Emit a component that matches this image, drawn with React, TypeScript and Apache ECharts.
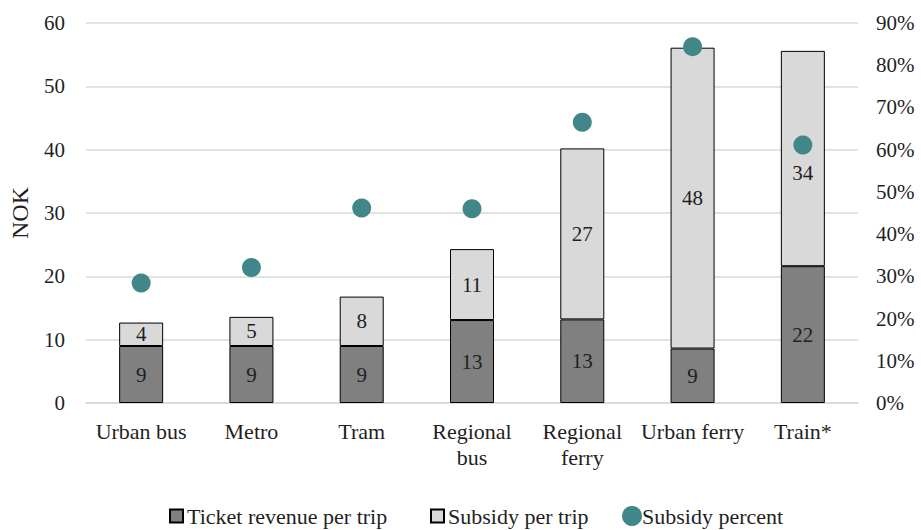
import React, { useEffect, useRef } from "react";
import * as echarts from "echarts";

// Cost per trip by mode of transport (NOK) and share covered by subsidy
const categories = ["Urban bus", "Metro", "Tram", "Regional bus", "Regional ferry", "Urban ferry", "Train*"];
const ticketRevenue = [9.0, 9.0, 9.0, 13.1, 13.2, 8.6, 21.6];
const subsidy = [3.7, 4.6, 7.8, 11.2, 27.0, 47.5, 34.0];
const subsidyPercent = [28.4, 32.1, 46.2, 46.0, 66.5, 84.4, 61.1];
const leftTicks = { min: 0, max: 60, interval: 10 };
const rightTicks = { min: 0, max: 90, interval: 10 };

const FONT = "'Liberation Serif', 'DejaVu Serif', serif";
const TEXT = "#1f1f1f";
const DARK = "#808080";
const LIGHT = "#d9d9d9";
const TEAL = "#418789";

export default function App() {
  const ref = useRef<HTMLDivElement>(null);

  useEffect(() => {
    if (!ref.current) return;
    const chart = echarts.init(ref.current, undefined, { renderer: "svg" });

    const barLabel = {
      show: true,
      position: "inside" as const,
      color: TEXT,
      fontFamily: FONT,
      fontSize: 21,
      formatter: (p: any) => String(Math.round(p.value)),
    };

    // the train's subsidy label sits a little lower so the dot stays clear of it
    const subsidyData = subsidy.map((v, i) =>
      i === categories.length - 1 ? { value: v, label: { offset: [0, 14] } } : v
    );

    const legendText = { color: TEXT, fontFamily: FONT, fontSize: 22 };

    chart.setOption({
      animation: false,
      backgroundColor: "#fff",
      textStyle: { fontFamily: FONT },
      grid: { left: 84, right: 63, top: 23, bottom: 127 },
      legend: [
        {
          data: [{ name: "Ticket revenue per trip", icon: "rect" }],
          left: 169,
          top: 505,
          itemWidth: 13,
          itemHeight: 13,
          itemGap: 4,
          padding: 0,
          textStyle: { ...legendText, padding: [0, 0, 0, -1] },
        },
        {
          data: [{ name: "Subsidy per trip", icon: "rect" }],
          left: 430,
          top: 505,
          itemWidth: 13,
          itemHeight: 13,
          padding: 0,
          textStyle: { ...legendText, padding: [0, 0, 0, -1] },
        },
        {
          data: [{ name: "Subsidy percent", icon: "circle" }],
          left: 622,
          top: 505,
          itemWidth: 20,
          itemHeight: 20,
          padding: 0,
          textStyle: { ...legendText, padding: [0, 0, 0, -5] },
        },
      ],
      xAxis: {
        type: "category",
        data: categories,
        axisLine: { show: true, lineStyle: { color: LIGHT, width: 1.5 } },
        axisTick: { show: false },
        axisLabel: {
          color: TEXT,
          fontFamily: FONT,
          fontSize: 22,
          margin: 15,
          lineHeight: 26,
          interval: 0,
          formatter: (v: string) => v.replace("Regional ", "Regional\n"),
        },
      },
      yAxis: [
        {
          type: "value",
          ...leftTicks,
          name: "NOK",
          nameLocation: "middle",
          nameGap: 54,
          nameRotate: 90,
          nameTextStyle: { color: TEXT, fontFamily: FONT, fontSize: 24 },
          axisLine: { show: false },
          axisTick: { show: false },
          axisLabel: { color: TEXT, fontFamily: FONT, fontSize: 21, margin: 21 },
          splitLine: { lineStyle: { color: LIGHT, width: 1.5 } },
        },
        {
          type: "value",
          ...rightTicks,
          position: "right",
          axisLine: { show: false },
          axisTick: { show: false },
          axisLabel: { color: TEXT, fontFamily: FONT, fontSize: 21, margin: 18, formatter: "{value}%" },
          splitLine: { show: false },
        },
      ],
      series: [
        {
          name: "Ticket revenue per trip",
          type: "bar",
          stack: "cost",
          data: ticketRevenue,
          barWidth: 44,
          itemStyle: { color: DARK, borderColor: "#000", borderWidth: 1 },
          label: barLabel,
        },
        {
          name: "Subsidy per trip",
          type: "bar",
          stack: "cost",
          data: subsidyData,
          barWidth: 44,
          itemStyle: { color: LIGHT, borderColor: "#000", borderWidth: 1 },
          label: barLabel,
        },
        {
          name: "Subsidy percent",
          type: "scatter",
          yAxisIndex: 1,
          data: subsidyPercent,
          symbol: "circle",
          symbolSize: 19,
          itemStyle: { color: TEAL, opacity: 1 },
          z: 5,
        },
      ],
    });

    return () => chart.dispose();
  }, []);

  return <div ref={ref} style={{ width: 921, height: 530, position: "absolute", left: 0, top: 0 }} />;
}
